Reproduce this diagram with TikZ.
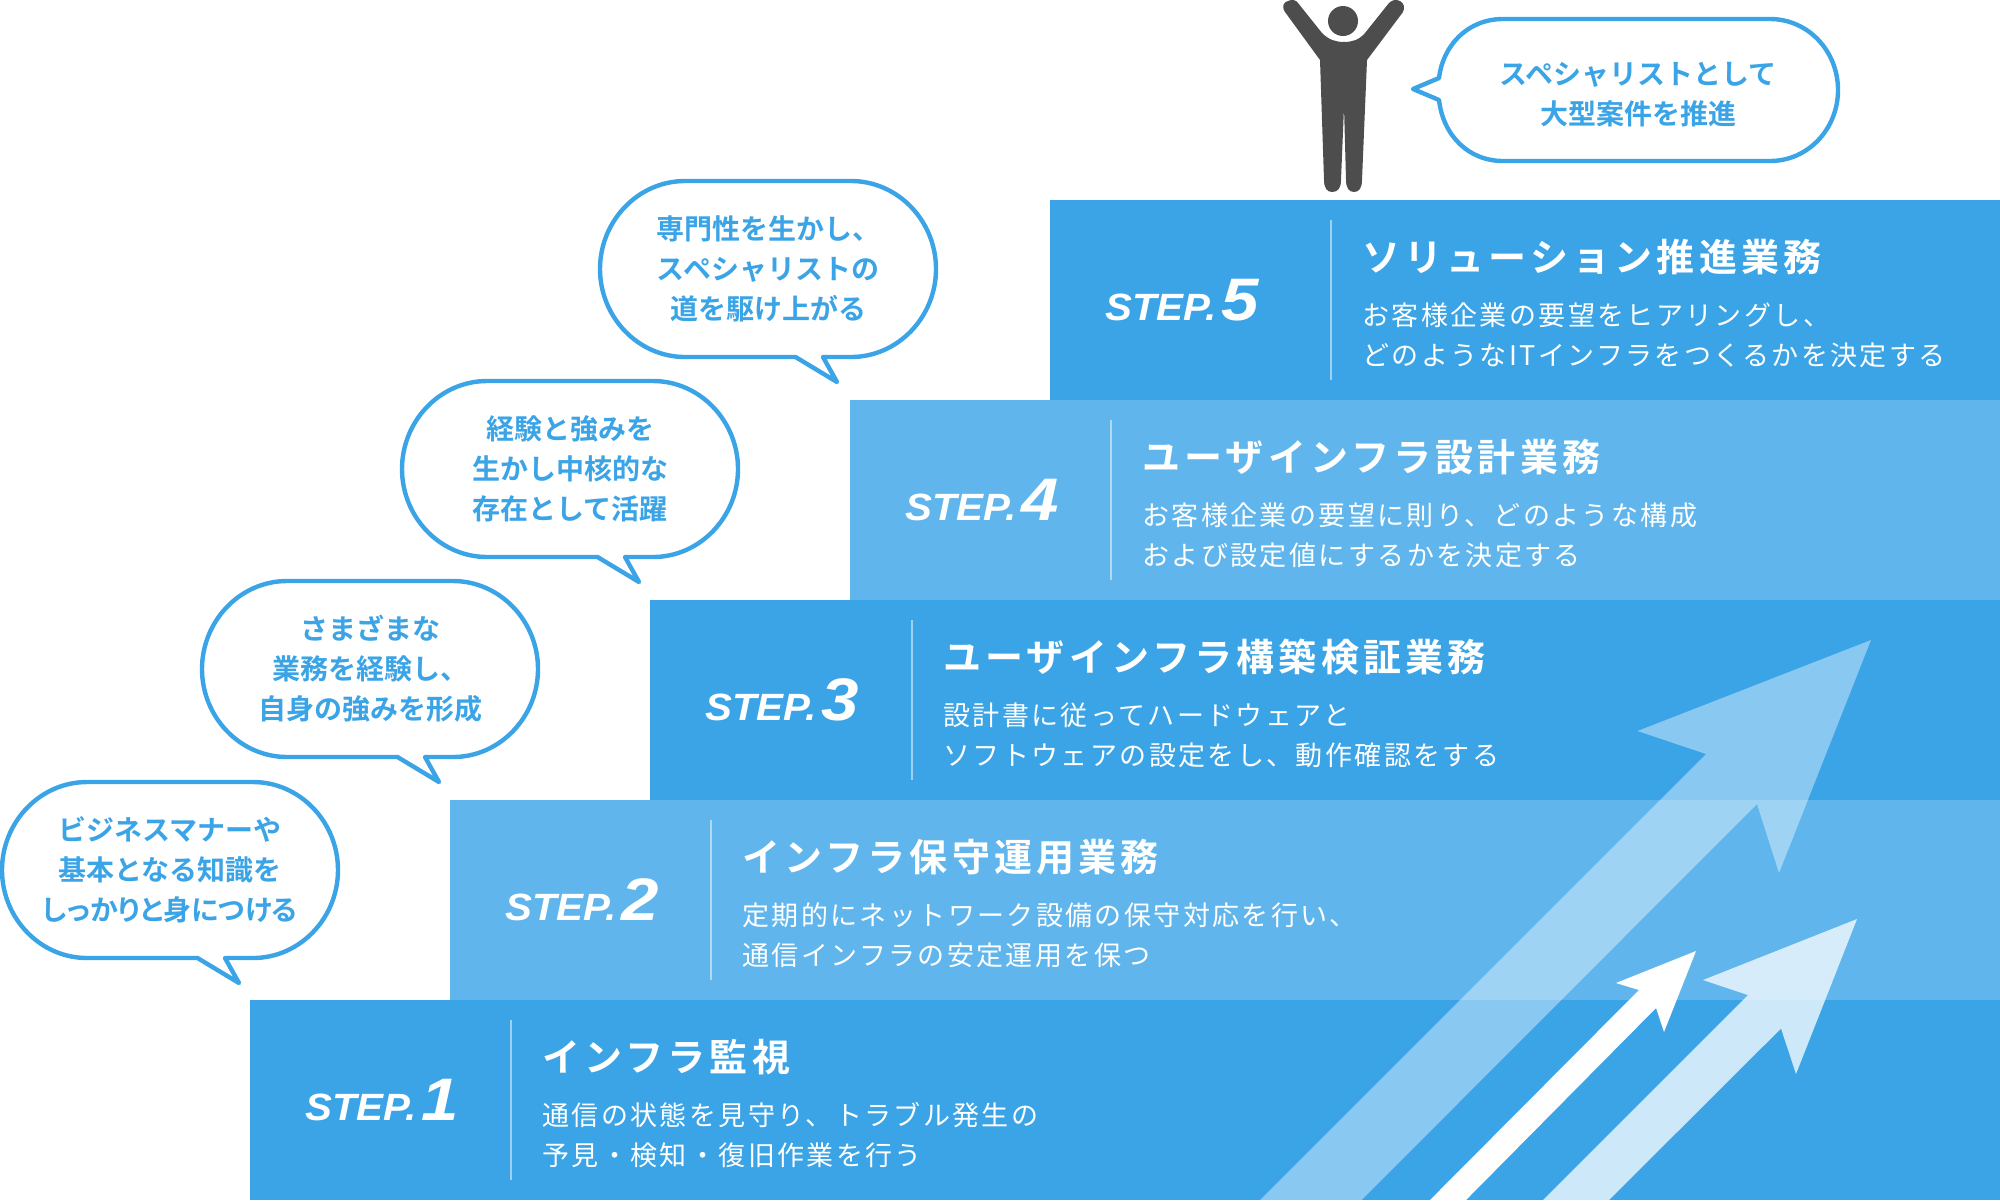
\documentclass[tikz,border=0pt]{standalone}
\usepackage{fontspec}
\newfontfamily\bodyf{Noto Sans CJK JP}[LetterSpace=8.8]
\newfontfamily\titlef{Noto Sans CJK JP}[UprightFont=* Bold,LetterSpace=11]
\newfontfamily\bubf{Noto Sans CJK JP}[UprightFont=* Bold]
\newfontfamily\bubp{Noto Sans CJK JP}[UprightFont=* Bold,RawFeature={+palt}]
\newfontfamily\stepf{Liberation Sans}[UprightFont=* Bold Italic,FakeStretch=1.06]
\newfontfamily\stepg{Liberation Sans}[UprightFont=* Bold Italic,FakeStretch=1.12]
\definecolor{dk}{HTML}{3BA4E6}
\definecolor{lt}{HTML}{60B6EC}
\definecolor{man}{HTML}{4D4D4D}
\tikzset{
  band/.style={fill=#1,draw=none},
  divider/.style={draw=white,draw opacity=.5,line width=1pt},
  tline/.style={text=white,inner sep=0,anchor=base west,font=\titlef\fontsize{19pt}{20pt}\selectfont},
  bline/.style={text=white,inner sep=0,anchor=base west,font=\bodyf\fontsize{13.5pt}{20pt}\selectfont},
  stepw/.style={text=white,inner sep=0,anchor=base west,font=\stepf\fontsize{19pt}{20pt}\selectfont},
  stepn/.style={text=white,inner sep=0,anchor=base west,font=\stepg\fontsize{30pt}{30pt}\selectfont},
  bubble/.style={draw=dk,line width=2.2pt,fill=white,line join=round},
  btext/.style={text=dk,inner sep=0,align=center,font=\bubf\fontsize{14pt}{20pt}\selectfont},
}
% #1 id, #2 band x, #3 band y, #4 colour, #5 divider x, #6 number, #7 title, #8 line1, #9 line2
\newcommand{\stepband}[9]{%
  \path[band=#4] (#2,#3) rectangle (2000,#3+200);
  \draw[divider] (#5,#3+20) -- (#5,#3+180);
  \node[stepw] (s#1) at (#2+55,#3+120) {STEP.};
  \node[stepn,anchor=base west] (n#1) at (#2+171.5,#3+120) {#6};
  \node[tline] (t#1) at (#5+31,#3+71) {#7};
  \node[bline] (a#1) at (#5+31,#3+125) {#8};
  \node[bline] (b#1) at (#5+31,#3+165) {#9};
}
\newcommand{\saybubble}[4]{%
  \begin{scope}[shift={(#1,#2)}]
    \draw[bubble] (87,782) -- (253,782) .. controls (300,782) and (338,822) .. (338,870)
      .. controls (338,918) and (300,958) .. (253,958) -- (225,958) -- (239,983) -- (197.5,958)
      -- (87,958) .. controls (40,958) and (2,918) .. (2,870) .. controls (2,822) and (40,782) .. (87,782) -- cycle;
    \node[btext] (#3) at (170,870) {#4};
  \end{scope}
}
\begin{document}
\begin{tikzpicture}[x=0.5pt,y=-0.5pt]
\useasboundingbox (0,0) rectangle (2000,1200);
% bands
\stepband{5}{1050}{200}{dk}{1331}{5}{ソリューション推進業務}{お客様企業の要望をヒアリングし、}{どのようなITインフラをつくるかを決定する}
\stepband{4}{850}{400}{lt}{1111}{4}{ユーザインフラ設計業務}{お客様企業の要望に則り、どのような構成}{および設定値にするかを決定する}
\stepband{3}{650}{600}{dk}{912}{3}{ユーザインフラ構築検証業務}{設計書に従ってハードウェアと}{ソフトウェアの設定をし、動作確認をする}
\stepband{2}{450}{800}{lt}{711}{2}{インフラ保守運用業務}{定期的にネットワーク設備の保守対応を行い、}{通信インフラの安定運用を保つ}
\stepband{1}{250}{1000}{dk}{511}{1}{インフラ監視}{通信の状態を見守り、トラブル発生の}{予見・検知・復旧作業を行う}
% arrows
\fill[white,fill opacity=.4] (1260,1200) -- (1706,754) -- (1637.5,731) -- (1871,640) -- (1779,873) -- (1757,804) -- (1361.6,1200) -- cycle;
\fill[white] (1430,1200) -- (1639,990) -- (1616,983) -- (1696,951) -- (1664,1032) -- (1656,1008) -- (1466,1200) -- cycle;
\fill[white,fill opacity=.75] (1543,1200) -- (1748,995) -- (1703,980) -- (1857,919) -- (1796,1074) -- (1781,1028.5) -- (1609,1200) -- cycle;
% bubbles
\saybubble{0}{0}{b1}{ビジネスマナーや\\基本となる知識を\\{\bubp\fontsize{14pt}{20pt}\selectfont しっかりと身につける}}
\saybubble{200}{-201}{b2}{さまざまな\\業務を経験し、\\自身の強みを形成}
\saybubble{400}{-401}{b3}{経験と強みを\\生かし中核的な\\存在として活躍}
\saybubble{598}{-601}{b4}{専門性を生かし、\\スペシャリストの\\道を駆け上がる}
\draw[bubble] (1503,19) -- (1770,19) .. controls (1808,19) and (1838,51) .. (1838,90)
  .. controls (1838,129) and (1808,161) .. (1770,161) -- (1503,161)
  .. controls (1468,161) and (1443,135) .. (1439,100) -- (1413,89) -- (1439,78)
  .. controls (1443,45) and (1468,19) .. (1503,19) -- cycle;
\node[btext] (b5) at (1638,95) {スペシャリストとして\\大型案件を推進};
% person
\fill[man] (1343,21) circle[radius=15];
\fill[man] (1320,60) -- (1285,12) .. controls (1281,6) and (1284,2) .. (1288,1)
  .. controls (1292,-1) and (1296,0) .. (1298,3) -- (1322,33)
  .. controls (1329,40) and (1336,42) .. (1344,42)
  .. controls (1352,42) and (1359,40) .. (1365,33) -- (1389,3)
  .. controls (1392,0) and (1396,-1) .. (1400,1)
  .. controls (1404,3) and (1405,8) .. (1403,12) -- (1367,60)
  -- (1362,180) .. controls (1362,188) and (1359,192) .. (1354,192)
  .. controls (1349,192) and (1346,188) .. (1346,180) -- (1344,107)
  -- (1341,180) .. controls (1341,188) and (1338,192) .. (1332,192)
  .. controls (1327,192) and (1324,188) .. (1324,180) -- cycle;
\end{tikzpicture}
\end{document}
